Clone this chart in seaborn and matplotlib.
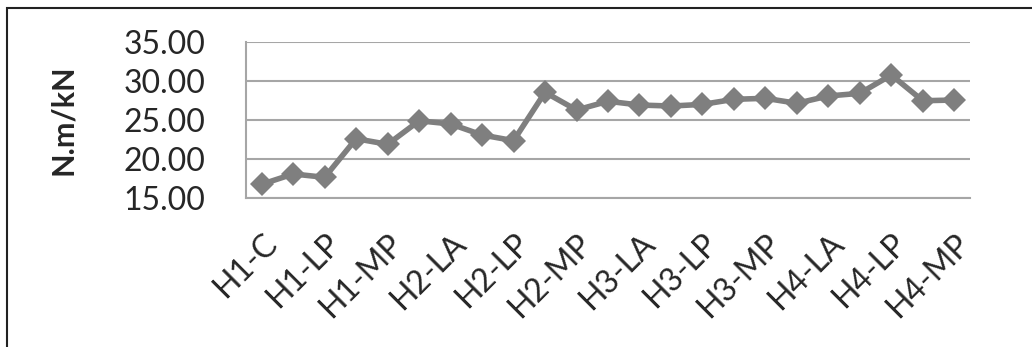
import numpy as np
import pandas as pd
import matplotlib
matplotlib.use("Agg")
import matplotlib.pyplot as plt
from matplotlib.patches import Rectangle
import seaborn as sns

# categories (only every other one is labelled on the axis)
categories = ["H1-C", "H1-LA", "H1-LP", "H1-MA", "H1-MP",
              "H2-C", "H2-LA", "H2-LC", "H2-LP", "H2-MA", "H2-MP",
              "H3-C", "H3-LA", "H3-LC", "H3-LP", "H3-MA", "H3-MP",
              "H4-C", "H4-LA", "H4-LC", "H4-LP", "H4-MA", "H4-MP"]
values = [16.76, 18.08, 17.65, 22.60, 21.88,
          24.90, 24.49, 23.08, 22.35, 28.55, 26.28,
          27.40, 26.92, 26.79, 27.00, 27.65, 27.78,
          27.14, 28.08, 28.42, 30.77, 27.47, 27.56]
y_ticks = [15, 20, 25, 30, 35]

df = pd.DataFrame({"cat": categories, "val": values})

sns.set_style("white")
plt.rcParams['font.family'] = ['Lato', 'DejaVu Sans']

fig = plt.figure(figsize=(10.32, 3.47), dpi=100)
ax = fig.add_axes([246 / 1032, 1 - 198 / 347, 724 / 1032, 156 / 347])

grey = "#7f7f7f"
sns.lineplot(data=df, x="cat", y="val", ax=ax, color=grey, linewidth=4,
             marker="D", markersize=12, markeredgewidth=0, sort=False)

ax.set_xlim(-0.5, len(categories) - 0.5)
ax.set_ylim(15, 35)
ax.set_yticks(y_ticks)
ax.set_yticklabels([f"{t:.2f}" for t in y_ticks], fontsize=23)
ax.grid(axis="y", color="#a6a6a6", linewidth=1.5)
ax.set_axisbelow(True)

idx = np.arange(len(categories))
ax.set_xticks(idx[::2])
ax.set_xticklabels(categories[::2], rotation=45, ha="right", va="top",
                   rotation_mode="anchor", fontsize=23)
ax.set_xticks(np.arange(-0.5, len(categories)), minor=True)
ax.tick_params(axis="x", which="major", length=0, pad=22)
ax.tick_params(axis="x", which="minor", length=10, width=1.5, color="#a6a6a6", direction="out")
ax.tick_params(axis="y", length=10, width=1.5, color="#a6a6a6", direction="out", pad=19)

for s in ["top", "right"]:
    ax.spines[s].set_visible(False)
for s in ["left", "bottom"]:
    ax.spines[s].set_color("#a6a6a6")
    ax.spines[s].set_linewidth(1.5)

ax.set_xlabel("")
ax.set_ylabel("N.m/kN", fontsize=22, fontweight="bold", labelpad=34)

fig.patches.append(Rectangle((7 / 1032, -0.1), 1.2, 1 - 8 / 347 + 0.1,
                             transform=fig.transFigure, fill=False,
                             edgecolor="#222222", linewidth=1.5))

fig.savefig("out.png", dpi=100)
